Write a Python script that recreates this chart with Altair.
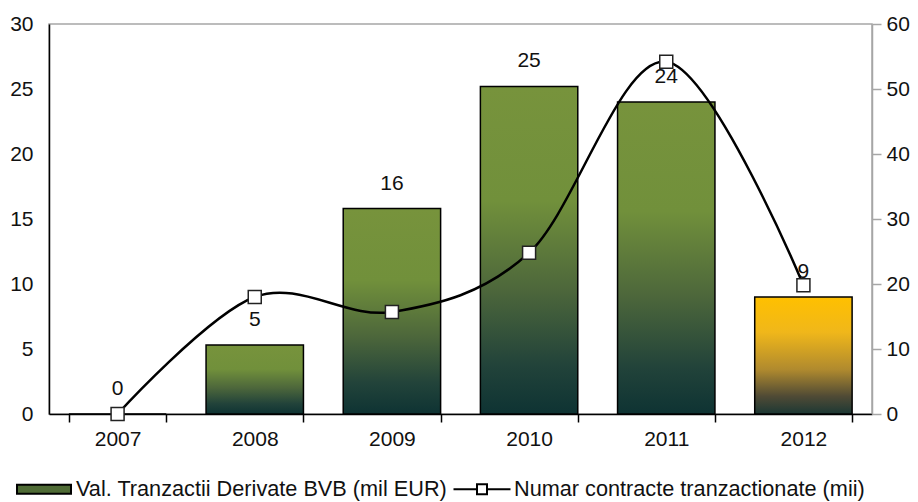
import altair as alt
import pandas as pd

years = ["2007", "2008", "2009", "2010", "2011", "2012"]
values = [0.0, 5.3, 15.8, 25.2, 24.0, 9.0]
value_labels = ["0", "5", "16", "25", "24", "9"]
contracts = [0.0, 18.0, 15.7, 24.8, 54.2, 19.8]
series_names = ["Val. Tranzactii Derivate BVB (mil EUR)", "Numar contracte tranzactionate (mii)"]

df = pd.DataFrame({"year": years, "value": values, "label": value_labels, "contracts": contracts})
leg_df = pd.DataFrame({"series": series_names})

FONT = "Liberation Sans"
FS = 21

green_grad = alt.Gradient(
    gradient="linear", x1=0, y1=0, x2=0, y2=1,
    stops=[
        alt.GradientStop(color="#77933C", offset=0),
        alt.GradientStop(color="#71903B", offset=0.35),
        alt.GradientStop(color="#4D673B", offset=0.62),
        alt.GradientStop(color="#22433A", offset=0.85),
        alt.GradientStop(color="#0E3333", offset=1),
    ],
)
yellow_grad = alt.Gradient(
    gradient="linear", x1=0, y1=0, x2=0, y2=1,
    stops=[
        alt.GradientStop(color="#FFC000", offset=0),
        alt.GradientStop(color="#F0B71A", offset=0.3),
        alt.GradientStop(color="#B08A2E", offset=0.62),
        alt.GradientStop(color="#4F4A35", offset=0.85),
        alt.GradientStop(color="#1C3834", offset=1),
    ],
)

x_enc = alt.X(
    "year:O",
    scale=alt.Scale(paddingInner=0.29, paddingOuter=0.145),
    axis=alt.Axis(
        title=None, labelAngle=0, tickBand="extent", tickSize=8, tickColor="black",
        tickWidth=1.5, domainColor="black", domainWidth=1.5, labelPadding=6,
        labelFont=FONT, labelFontSize=FS, labelColor="#111111", grid=False,
    ),
)
y_left = alt.Y(
    "value:Q",
    scale=alt.Scale(domain=[0, 30], nice=False),
    axis=alt.Axis(
        title=None, values=[0, 5, 10, 15, 20, 25, 30], ticks=False, domainColor="black",
        domainWidth=1.5, labelPadding=16, labelFont=FONT, labelFontSize=FS,
        labelColor="#111111", grid=False,
    ),
)

base = alt.Chart(df)

bars_green = base.transform_filter(alt.datum.year != "2012").mark_bar(
    color=green_grad, stroke="black", strokeWidth=1.5
).encode(x=x_enc, y=y_left)
bars_yellow = base.transform_filter(alt.datum.year == "2012").mark_bar(
    color=yellow_grad, stroke="black", strokeWidth=1.5
).encode(x=x_enc, y=y_left)
texts = base.mark_text(dy=-25, font=FONT, fontSize=FS, color="#111111").encode(
    x=x_enc, y=y_left, text="label:N"
)
left_layer = alt.layer(bars_green, bars_yellow, texts)

y_right = alt.Y(
    "contracts:Q",
    scale=alt.Scale(domain=[0, 60], nice=False),
    axis=alt.Axis(
        title=None, orient="right", values=[0, 10, 20, 30, 40, 50, 60], tickSize=9,
        tickColor="#A6A6A6", tickWidth=1.5, domainColor="#A6A6A6", domainWidth=1.5,
        labelPadding=5, labelFont=FONT, labelFontSize=FS, labelColor="#111111", grid=False,
    ),
)
line = base.mark_line(interpolate="cardinal", color="black", strokeWidth=2.5).encode(
    x=x_enc, y=y_right
)
pts = base.mark_point(
    shape="square", filled=True, fill="white", stroke="#222222", strokeWidth=1.5,
    size=169, opacity=1,
).encode(x=x_enc, y=y_right)
right_layer = alt.layer(line, pts)

legend_def = alt.Legend(
    title=None, orient="none", legendX=-16, legendY=454, direction="horizontal",
    symbolSize=400, symbolOpacity=1, symbolStrokeWidth=2, labelFont=FONT,
    labelFontSize=21.7, labelColor="#111111", labelOffset=21, columnPadding=1, padding=0,
    labelLimit=0,
)
leg = alt.Chart(leg_df).mark_point(filled=True, opacity=0).encode(
    shape=alt.Shape("series:N", scale=alt.Scale(
        domain=series_names,
        range=["M-2.7,-0.45H2.7V0.45H-2.7Z",
               "M-2.85,0H-0.5M0.5,0H2.85M-0.5,-0.5H0.5V0.5H-0.5Z"]), legend=legend_def),
    fill=alt.Fill("series:N", scale=alt.Scale(domain=series_names, range=["#4F6B35", "white"]),
                  legend=legend_def),
    stroke=alt.Stroke("series:N", scale=alt.Scale(domain=series_names, range=["black", "black"]),
                      legend=legend_def),
)

chart = alt.layer(left_layer, right_layer, leg).resolve_scale(y="independent").properties(
    width=823, height=390,
    autosize=alt.AutoSizeParams(type="none"),
    padding={"left": 41, "top": 16, "right": 38, "bottom": 94},
).configure_view(stroke="#A6A6A6", strokeWidth=1.5)

chart.save("out.html", embed_options={"renderer": "svg", "actions": False})
